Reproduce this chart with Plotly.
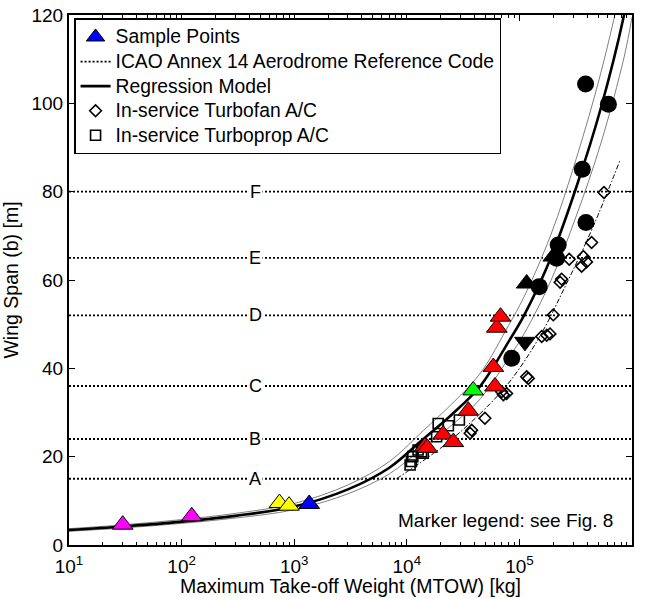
import plotly.graph_objects as go
import math

# ---------------- data ----------------
# ICAO Annex 14 code letters and their span limits [m]
icao_letters = ["A", "B", "C", "D", "E", "F"]
icao_spans = [15, 24, 36, 52, 65, 80]
icao_label_mtow = 450

# Regression model (centre) and its band
reg_mtow = [10, 30, 100, 300, 1000, 3000, 7000, 14000, 25000, 45000, 80000,
            110000, 190000, 320000, 530000, 850000, 1000000]
reg_span = [3.4, 4.2, 5.3, 6.6, 8.7, 12.6, 17.5, 24.0, 29.5, 36.0, 46.0,
            52.0, 65.0, 81.0, 99.0, 120.0, 130.0]
reg_upper = [3.7, 4.55, 5.75, 7.15, 9.4, 13.6, 18.9, 25.9, 31.9, 38.9, 49.7,
             56.2, 70.2, 87.5, 107.0, 129.6, 140.0]
reg_lower = [3.1, 3.85, 4.9, 6.1, 8.0, 11.6, 16.1, 22.1, 27.1, 33.1, 42.3,
             47.8, 59.8, 74.5, 91.0, 110.4, 119.5]

# Turbofan trend (dash-dot)
fan_fit_mtow = [8100, 22600, 55000, 85000, 150000, 260000, 450000, 780000]
fan_fit_span = [15.0, 23.0, 32.0, 37.5, 47.0, 59.0, 72.0, 87.0]

# Sample points (triangles)
magenta_mtow = [30, 123]
magenta_span = [4.6, 6.5]
yellow_mtow = [740, 900]
yellow_span = [9.5, 8.9]
blue_mtow = [1360]
blue_span = [9.3]
red_mtow = [14500, 15200, 21000, 25900, 35200, 58700, 60700, 63000, 68000]
red_span = [22.3, 22.0, 25.0, 23.3, 30.4, 40.3, 35.9, 49.2, 51.7]
green_mtow = [38900]
green_span = [35.0]
black_up_mtow = [116000, 200000]
black_up_span = [59.2, 65.3]
black_down_mtow = [112000]
black_down_span = [46.0]
circle_mtow = [85500, 150000, 214000, 221000, 362000, 390000, 387000, 617000]
circle_span = [42.3, 58.5, 64.9, 67.9, 85.1, 73.0, 104.4, 99.8]

# In-service aircraft
turbofan_mtow = [36500, 37700, 49400, 69500, 72000, 77000, 116000, 120000,
                 158000, 175000, 187000, 200000, 230000, 237000, 277000,
                 357000, 370000, 395000, 438000, 564000]
turbofan_span = [25.3, 26.0, 28.7, 34.7, 34.0, 34.3, 38.1, 37.7, 47.2, 47.5,
                 47.8, 52.1, 59.5, 60.2, 64.7, 63.1, 65.3, 64.1, 68.5, 79.8]
turboprop_mtow = [10700, 11000, 11300, 12600, 13500, 14000, 18400, 19000,
                  23400, 29300]
turboprop_span = [18.1, 18.9, 20.0, 21.5, 21.1, 20.8, 24.5, 27.5, 27.0, 28.3]

x_tick_exponents = [1, 2, 3, 4, 5, 6]
y_ticks = [0, 20, 40, 60, 80, 100, 120]

legend_names = ["Sample Points", "ICAO Annex 14 Aerodrome Reference Code",
                "Regression Model", "In-service Turbofan A/C",
                "In-service Turboprop A/C"]
x_title = "Maximum Take-off Weight (MTOW) [kg]"
y_title = "Wing Span (b) [m]"
note_text = "Marker legend: see Fig. 8"

# ---------------- figure ----------------
FONT = "Liberation Sans, Arial, sans-serif"
FS = 19
FS_TITLE = 19.5
FS_LEG_ROW = 16.6      # controls legend row pitch
FS_LEG_TEXT = 19.3     # actual legend glyph size


def leg(name):
    return f'<span style="font-size:{FS_LEG_TEXT}px">{name}</span>'


fig = go.Figure()

# ICAO reference lines
for i, s in enumerate(icao_spans):
    fig.add_trace(go.Scatter(
        x=[10, 1e6], y=[s, s], mode="lines",
        line=dict(color="black", width=1.8, dash="2px,2px"),
        name=leg(legend_names[1]),
        showlegend=(i == 0), legendrank=2, hoverinfo="skip"))

# regression band
for arr in (reg_upper, reg_lower):
    fig.add_trace(go.Scatter(
        x=reg_mtow, y=arr, mode="lines", line=dict(color="#7f7f7f", width=1,
                                                   shape="spline"),
        showlegend=False, hoverinfo="skip"))
fig.add_trace(go.Scatter(
    x=reg_mtow, y=reg_span, mode="lines",
    line=dict(color="black", width=2.6, shape="spline"),
    name=leg(legend_names[2]), legendrank=3))
fig.add_trace(go.Scatter(
    x=fan_fit_mtow, y=fan_fit_span, mode="lines",
    line=dict(color="black", width=1, dash="5px,2px,1.5px,2px", shape="spline"),
    showlegend=False, hoverinfo="skip"))

# in-service aircraft
fig.add_trace(go.Scatter(
    x=turbofan_mtow, y=turbofan_span, mode="markers",
    marker=dict(symbol="diamond-open", size=9, color="black",
                line=dict(color="black", width=1.6)),
    name=leg(legend_names[3]), legendrank=4))
fig.add_trace(go.Scatter(
    x=turboprop_mtow, y=turboprop_span, mode="markers",
    marker=dict(symbol="square-open", size=10, color="black",
                line=dict(color="black", width=1.6)),
    name=leg(legend_names[4]), legendrank=5))

# sample points
tri = dict(size=18, line=dict(color="black", width=1))
for xs, ys, col, sym in [
    (magenta_mtow, magenta_span, "#ff00ff", "triangle-up"),
    (yellow_mtow, yellow_span, "#ffff00", "triangle-up"),
    (red_mtow, red_span, "#ff0000", "triangle-up"),
    (green_mtow, green_span, "#00ff00", "triangle-up"),
    (black_up_mtow, black_up_span, "black", "triangle-up"),
    (black_down_mtow, black_down_span, "black", "triangle-down"),
]:
    fig.add_trace(go.Scatter(x=xs, y=ys, mode="markers",
                             marker=dict(symbol=sym, color=col, **tri),
                             showlegend=False))
fig.add_trace(go.Scatter(
    x=circle_mtow, y=circle_span, mode="markers",
    marker=dict(symbol="circle", size=17, color="black"),
    showlegend=False))
fig.add_trace(go.Scatter(
    x=blue_mtow, y=blue_span, mode="markers",
    marker=dict(symbol="triangle-up", color="#0000ff", **tri),
    name=leg(legend_names[0]), legendrank=1))

# code letters
for letter, s in zip(icao_letters, icao_spans):
    fig.add_annotation(x=math.log10(icao_label_mtow), y=s, text=letter,
                       showarrow=False, bgcolor="white", borderpad=1,
                       font=dict(family=FONT, size=FS - 1, color="black"),
                       xanchor="center", yanchor="middle")

fig.add_annotation(xref="paper", yref="paper", x=0.97, y=0.047,
                   text=note_text, showarrow=False,
                   xanchor="right", yanchor="middle",
                   font=dict(family=FONT, size=FS, color="black"))

# x-axis title (placed as annotation for exact vertical position)
fig.add_annotation(xref="paper", yref="paper", x=0.5, y=-0.078,
                   text=x_title, showarrow=False,
                   xanchor="center", yanchor="middle",
                   font=dict(family=FONT, size=FS_TITLE, color="black"))

minor_vals = [m * 10 ** e for e in range(1, 6) for m in range(2, 10)]

fig.update_xaxes(
    type="log", range=[1, 6], automargin=False,
    tickmode="array", tickvals=[10 ** e for e in x_tick_exponents],
    ticktext=[f"10<sup>{e}</sup>" for e in x_tick_exponents],
    ticks="inside", ticklen=6, tickwidth=1, tickcolor="black",
    ticklabelstandoff=3,
    minor=dict(tickmode="array", tickvals=minor_vals, ticks="inside",
               ticklen=3, tickcolor="black", showgrid=False),
    showline=True, linewidth=2, linecolor="black", mirror="ticks",
    showgrid=False, zeroline=False,
    tickfont=dict(family=FONT, size=FS, color="black"))
fig.update_yaxes(
    range=[0, 120], tickmode="array", tickvals=y_ticks, automargin=False,
    ticks="inside", ticklen=6, tickwidth=1, tickcolor="black",
    showline=True, linewidth=2, linecolor="black", mirror="ticks",
    showgrid=False, zeroline=False,
    title=dict(text=y_title, standoff=8,
               font=dict(family=FONT, size=FS_TITLE, color="black")),
    tickfont=dict(family=FONT, size=FS, color="black"))

fig.update_layout(
    width=646, height=599,
    margin=dict(l=69, r=14, t=15, b=54, autoexpand=False),
    paper_bgcolor="white", plot_bgcolor="white",
    font=dict(family=FONT, size=FS, color="black"),
    showlegend=True,
    hovermode=False,
    legend=dict(x=0.009, y=0.994, xanchor="left", yanchor="top",
                bgcolor="white", bordercolor="black", borderwidth=1.5,
                font=dict(family=FONT, size=FS_LEG_ROW, color="black"),
                traceorder="normal", itemwidth=30,
                tracegroupgap=0),
)

# remove the browser's default 8px body margin so the figure sits at (0,0)
fig.write_html(
    "out.html",
    config={"displayModeBar": False, "staticPlot": True},
    post_script="document.body.style.margin='0';"
                "document.body.style.padding='0';"
                "document.documentElement.style.overflow='hidden';")
